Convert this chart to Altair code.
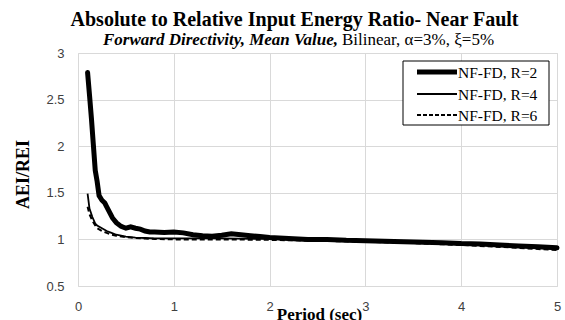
import altair as alt
import pandas as pd

# Period (sec) and AEI/REI mean values for each strength-reduction factor
period_r2 = [0.10, 0.12, 0.14, 0.16, 0.18, 0.20, 0.22, 0.25, 0.28, 0.30, 0.33, 0.36,
             0.40, 0.45, 0.50, 0.55, 0.60, 0.65, 0.70, 0.75, 0.80, 0.90, 1.00, 1.10,
             1.20, 1.30, 1.40, 1.50, 1.60, 1.70, 1.80, 1.90, 2.00, 2.20, 2.40, 2.60,
             2.80, 3.00, 3.20, 3.40, 3.60, 3.80, 4.00, 4.20, 4.40, 4.60, 4.80, 5.00]
ratio_r2 = [2.79, 2.55, 2.30, 2.02, 1.74, 1.62, 1.47, 1.42, 1.39, 1.35, 1.29, 1.23,
            1.18, 1.14, 1.12, 1.135, 1.12, 1.11, 1.09, 1.08, 1.08, 1.075, 1.08, 1.07,
            1.05, 1.04, 1.035, 1.045, 1.06, 1.05, 1.04, 1.03, 1.02, 1.01, 1.00, 1.00,
            0.99, 0.985, 0.98, 0.975, 0.97, 0.965, 0.955, 0.95, 0.94, 0.93, 0.92, 0.91]

period_r4 = [0.10, 0.12, 0.15, 0.18, 0.20, 0.25, 0.30, 0.35, 0.40, 0.50, 0.60, 0.70,
             0.80, 1.00, 1.20, 1.50, 2.00, 2.50, 3.00, 3.50, 4.00, 4.50, 5.00]
ratio_r4 = [1.49, 1.33, 1.24, 1.17, 1.15, 1.12, 1.09, 1.07, 1.05, 1.03, 1.02, 1.015,
            1.01, 1.01, 1.01, 1.01, 1.005, 0.99, 0.98, 0.965, 0.95, 0.925, 0.895]

period_r6 = [0.10, 0.12, 0.15, 0.18, 0.20, 0.25, 0.30, 0.35, 0.40, 0.50, 0.60, 0.70,
             0.80, 1.00, 1.50, 2.00, 2.50, 3.00, 3.50, 4.00, 4.50, 5.00]
ratio_r6 = [1.35, 1.27, 1.20, 1.15, 1.12, 1.09, 1.07, 1.05, 1.04, 1.025, 1.015, 1.01,
            1.005, 1.00, 1.00, 0.995, 0.985, 0.975, 0.96, 0.94, 0.915, 0.885]

legend_labels = ["NF-FD, R=2", "NF-FD, R=4", "NF-FD, R=6"]
x_ticks = [0, 1, 2, 3, 4, 5]
y_ticks = [0.5, 1, 1.5, 2, 2.5, 3]

SERIF = "Liberation Serif"
SANS = "Liberation Sans"

x_scale = alt.Scale(domain=[0, 5], nice=False, zero=False)
y_scale = alt.Scale(domain=[0.5, 3], nice=False, zero=False)

x_axis = alt.Axis(values=x_ticks, title="Period (sec)", grid=True, gridColor="#d9d9d9",
                  domain=False, ticks=False, labelPadding=14, labelFont=SANS,
                  labelFontSize=13, labelColor="#404040", titleFont=SERIF,
                  titleFontSize=17, titleFontWeight="bold", titleColor="#000000",
                  titleX=241, titleY=33.5, titleBaseline="alphabetic", labelFlush=False)
y_axis = alt.Axis(values=y_ticks, format="~g", title="AEI/REI", grid=True,
                  gridColor="#d9d9d9", domain=False, ticks=False, labelPadding=14,
                  labelFont=SANS, labelFontSize=13, labelColor="#404040",
                  titleFont=SERIF, titleFontSize=18, titleFontWeight="bold",
                  titleColor="#000000", titleX=-54.5, titleY=121, titleAngle=270,
                  titleAlign="center", titleBaseline="middle")


def series(periods, ratios, **style):
    df = pd.DataFrame({"period": periods, "ratio": ratios})
    return alt.Chart(df).mark_line(color="black", **style).encode(
        x=alt.X("period:Q", scale=x_scale, axis=x_axis),
        y=alt.Y("ratio:Q", scale=y_scale, axis=y_axis),
    )


line_r6 = series(period_r6, ratio_r6, strokeWidth=2, strokeDash=[5, 3])
line_r4 = series(period_r4, ratio_r4, strokeWidth=1.8)
line_r2 = series(period_r2, ratio_r2, strokeWidth=5, strokeCap="round")

# Legend box in the upper right of the plot area
one = pd.DataFrame({"k": [0]})
legend_box = alt.Chart(one).mark_rect(fill="white", stroke="black", strokeWidth=1).encode(
    x=alt.value(325), x2=alt.value(471), y=alt.value(8), y2=alt.value(72))

legend_rows = []
row_y = [19, 41, 62]
row_style = [dict(strokeWidth=5), dict(strokeWidth=1.8), dict(strokeWidth=1.8, strokeDash=[4, 2])]
for label, yy, st in zip(legend_labels, row_y, row_style):
    legend_rows.append(
        alt.Chart(one).mark_rule(color="black", **st).encode(
            x=alt.value(339), x2=alt.value(379), y=alt.value(yy)))
    legend_rows.append(
        alt.Chart(one).mark_text(text=label, font=SERIF, fontSize=15.5, align="left",
                                 baseline="middle", color="black").encode(
            x=alt.value(380), y=alt.value(yy + 1)))

# Title and subtitle lines
title = alt.Chart(one).mark_text(
    text="Absolute to Relative Input Energy Ratio- Near Fault", font=SERIF,
    fontSize=20, fontWeight="bold", align="center", baseline="alphabetic",
    color="black").encode(x=alt.value(216.5), y=alt.value(-27))
sub_bold = alt.Chart(one).mark_text(
    text="Forward Directivity, Mean Value,", font=SERIF, fontSize=17,
    fontWeight="bold", fontStyle="italic", align="right", baseline="alphabetic",
    color="black").encode(x=alt.value(260), y=alt.value(-8))
sub_plain = alt.Chart(one).mark_text(
    text="Bilinear, α=3%, ξ=5%", font=SERIF, fontSize=17, align="left",
    baseline="alphabetic", color="black").encode(x=alt.value(264), y=alt.value(-8))

chart = alt.layer(
    line_r6, line_r4, line_r2, legend_box, *legend_rows, title, sub_bold, sub_plain
).properties(
    width=479, height=233,
    autosize=alt.AutoSizeParams(type="none"),
    padding={"left": 78, "top": 53, "right": 8, "bottom": 34},
).configure_view(
    stroke="#000000", strokeWidth=1.2
).configure(background="white")

chart.save("out.html", embed_options={"renderer": "svg", "actions": False})
